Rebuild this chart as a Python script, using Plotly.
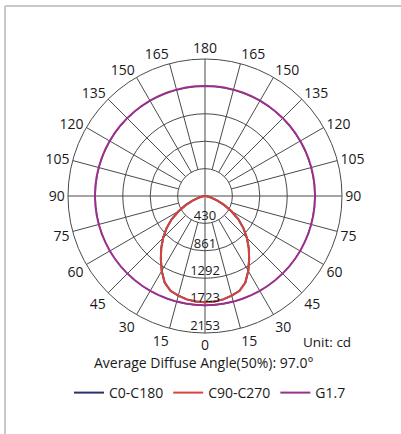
import plotly.graph_objects as go

# ---------------- data ----------------
angles_half = [0, 5, 10, 15, 20, 25, 30, 35, 40, 45, 50, 55, 60, 65, 70, 75, 80, 85, 90,
               95, 100, 105, 110, 115, 120, 125, 130, 135, 140, 145, 150, 155, 160, 165, 170, 175, 180]
c0_c180 = [1670, 1665, 1650, 1620, 1585, 1500, 1360, 1210, 1070, 930, 790, 640, 480, 330, 200, 100, 40, 10, 0,
           0, 0, 0, 0, 0, 0, 0, 0, 0, 0, 0, 0, 0, 0, 0, 0, 0, 0]
c90_c270 = [1670, 1665, 1650, 1620, 1585, 1500, 1360, 1210, 1070, 930, 790, 640, 480, 330, 200, 100, 40, 10, 0,
            0, 0, 0, 0, 0, 0, 0, 0, 0, 0, 0, 0, 0, 0, 0, 0, 0, 0]
g17 = [1715, 1716, 1717, 1718, 1719, 1720, 1721, 1722, 1723, 1724, 1725, 1726, 1727, 1727, 1728, 1728, 1729, 1729, 1730,
       1730, 1730, 1730, 1730, 1730, 1730, 1730, 1730, 1730, 1730, 1730, 1730, 1730, 1730, 1730, 1730, 1730, 1730]

radial_ticks = [430, 861, 1292, 1723, 2153]
radial_max = 2153
angle_ticks = list(range(0, 360, 15))
angle_labels = [str(a if a <= 180 else 360 - a) for a in angle_ticks]

title_text = "Average Diffuse Angle(50%): 97.0°"
unit_text = "Unit: cd"

# ---------------- helpers ----------------
def full(vals):
    th = list(angles_half) + [360 - a for a in reversed(angles_half)]
    r = list(vals) + list(reversed(vals))
    return th, r

FONT = "Open Sans"
TXT = "#1a1a1a"
GRID = "#4a4a4a"

fig = go.Figure()

# spokes (start at first circle, except the 0/90/180/270 axes)
sp_r, sp_t = [], []
for a in angle_ticks:
    r0 = 0 if a % 90 == 0 else radial_ticks[0] + 0.6
    sp_r += [r0, radial_max, None]
    sp_t += [a, a, None]
fig.add_trace(go.Scatterpolar(r=sp_r, theta=sp_t, mode="lines", connectgaps=False,
                              line=dict(color=GRID, width=1), showlegend=False, hoverinfo="skip"))

th, r = full(c0_c180)
fig.add_trace(go.Scatterpolar(r=r, theta=th, mode="lines", name="C0-C180",
                              line=dict(color="#2e2e6e", width=2)))
th, r = full(c90_c270)
fig.add_trace(go.Scatterpolar(r=r, theta=th, mode="lines", name="C90-C270",
                              line=dict(color="#d9443a", width=2)))
th, r = full(g17)
fig.add_trace(go.Scatterpolar(r=r, theta=th, mode="lines", name="G1.7",
                              line=dict(color="#9a2f8c", width=2)))

# radial labels
fig.add_trace(go.Scatterpolar(r=radial_ticks, theta=[0] * len(radial_ticks), mode="text",
                              text=[str(v) for v in radial_ticks], textposition="top center",
                              textfont=dict(family=FONT, size=13, color=TXT),
                              showlegend=False, hoverinfo="skip"))

fig.update_layout(
    width=401, height=434,
    margin=dict(l=0, r=0, t=0, b=0, autoexpand=False),
    paper_bgcolor="white",
    font=dict(family=FONT, size=13, color=TXT),
    polar=dict(
        domain=dict(x=[68 / 401, 342 / 401], y=[101 / 434, 375 / 434]),
        bgcolor="white",
        angularaxis=dict(rotation=270, direction="counterclockwise",
                         tickvals=angle_ticks, ticktext=angle_labels,
                         showgrid=False, showline=True, linecolor=GRID, linewidth=1,
                         ticks="", tickfont=dict(family=FONT, size=14, color=TXT)),
        radialaxis=dict(range=[0, radial_max], tickvals=radial_ticks[:-1],
                        showticklabels=False, showline=False, ticks="",
                        gridcolor=GRID, gridwidth=1),
    ),
    showlegend=True,
    legend=dict(orientation="h", x=210 / 401, xanchor="center", y=(434 - 393) / 434, yanchor="middle",
                font=dict(family=FONT, size=14, color=TXT), bgcolor="rgba(0,0,0,0)",
                itemwidth=30, tracegroupgap=0),
    annotations=[
        dict(text=title_text, x=203 / 401, y=(434 - 362) / 434, xref="paper", yref="paper",
             showarrow=False, xanchor="center", yanchor="middle",
             font=dict(family=FONT, size=14, color=TXT)),
        dict(text=unit_text, x=353 / 401, y=(434 - 342) / 434, xref="paper", yref="paper",
             showarrow=False, xanchor="right", yanchor="middle",
             font=dict(family=FONT, size=13.5, color=TXT)),
    ],
    shapes=[
        dict(type="line", xref="paper", yref="paper", x0=5 / 401, x1=1, y0=(434 - 6) / 434, y1=(434 - 6) / 434,
             line=dict(color="#c8c8c8", width=2)),
        dict(type="line", xref="paper", yref="paper", x0=5 / 401, x1=5 / 401, y0=0, y1=(434 - 6) / 434,
             line=dict(color="#c8c8c8", width=2)),
    ],
)

fig.write_html("out.html", config={"displayModeBar": False},
               post_script="document.body.style.margin='0';document.body.style.padding='0';")
